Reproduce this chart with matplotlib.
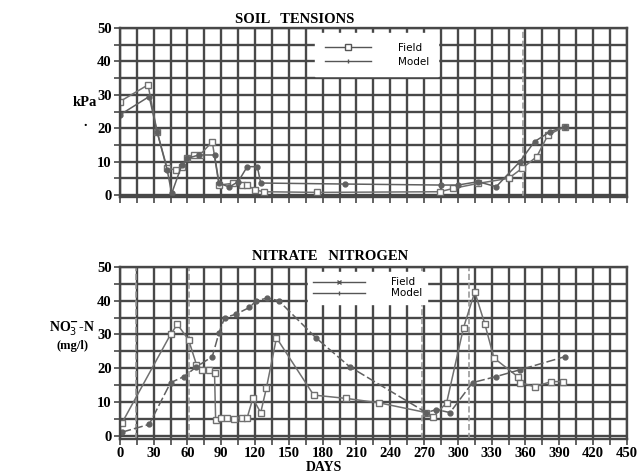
import numpy as np
import matplotlib
matplotlib.use('Agg')
import matplotlib.pyplot as plt
from matplotlib.lines import Line2D

# ---- soil tensions (kPa) ----
st_field_day = [0, 25, 33, 42, 50, 55, 60, 66, 71, 82, 88, 100, 108, 113, 120, 128, 175, 284, 296, 318, 345, 357, 370, 380, 395]
st_field_val = [28, 33, 19, 8, 7.5, 8.5, 11, 12, 12, 16, 3, 3.5, 3, 3, 1.5, 1, 0.8, 1, 2, 3.5, 5, 8, 11.5, 18, 20.5]
st_model_day = [0, 26, 33, 42, 46, 55, 60, 70, 84, 88, 97, 105, 113, 122, 125, 200, 285, 300, 318, 334, 355, 368, 382, 395]
st_model_val = [24, 29.5, 19, 7.5, 0.5, 9, 11, 12, 12, 3.6, 2.4, 4, 8.5, 8.5, 3.6, 3.3, 3, 3, 4, 2.5, 10, 16, 19, 20.5]

# ---- nitrate nitrogen (mg/l) ----
no3_field_day = [2, 45, 51, 61, 68, 73, 79, 84, 85, 90, 95, 101, 108, 113, 118, 125, 130, 139, 172, 201, 230, 272, 278, 290, 305, 315, 324, 332, 353, 355, 368, 383, 393]
no3_field_val = [3.8, 30, 33, 28.4, 21, 19.5, 19.5, 18.6, 4.7, 5.3, 5.3, 5, 5.3, 5.3, 11, 6.8, 14, 29, 12, 11, 9.7, 6.8, 5.6, 9.7, 32, 42.6, 33, 23, 17.5, 15.7, 14.5, 16, 16]
no3_model_day = [2, 26, 45, 57, 68, 82, 88, 93, 103, 115, 121, 131, 141, 174, 204, 272, 281, 293, 313, 334, 355, 395]
no3_model_val = [1, 3.3, 15.7, 17.5, 20.4, 23.4, 30.5, 35, 36, 38, 40, 40.8, 40, 29, 20.4, 6.8, 7.7, 6.8, 15.7, 17.5, 19.5, 23.4]

st_events = [358]
no3_events = [14, 61, 268, 310]
x_ticks = list(range(0, 451, 30))
y_ticks = [0, 10, 20, 30, 40, 50]

serif = 'Liberation Serif'
grid_col = '#484848'
line_col = '#707070'

fig = plt.figure(figsize=(6.41, 4.76), dpi=100)
ax1 = fig.add_axes([0.187, 0.586, 0.791, 0.355])
ax2 = fig.add_axes([0.187, 0.078, 0.791, 0.361])


def style(ax, ylo):
    ax.set_xlim(0, 450)
    ax.set_ylim(ylo, 50)
    ax.set_xticks(x_ticks)
    ax.set_xticks(range(0, 451, 15), minor=True)
    ax.set_yticks(y_ticks)
    ax.set_yticks(range(0, 51, 5), minor=True)
    ax.grid(True, which='both', color=grid_col, linewidth=1.7)
    ax.set_axisbelow(True)
    for s in ax.spines.values():
        s.set_color(grid_col)
        s.set_linewidth(1.7)
    ax.tick_params(which='both', direction='out', length=4, width=1.2, color=grid_col, pad=2)
    for lab in ax.get_yticklabels():
        lab.set_fontfamily(serif)
        lab.set_fontweight('bold')
        lab.set_fontsize(10.5)


style(ax1, -0.6)
style(ax2, -1.0)
ax1.set_xticklabels([])
ax2.set_xticklabels([str(t) for t in x_ticks], fontfamily=serif, fontweight='bold', fontsize=10.5)

for d in st_events:
    ax1.axvline(d, color='#9a9a9a', linestyle='--', linewidth=1.2)
for d in no3_events:
    ax2.axvline(d, color='#9a9a9a', linestyle='--', linewidth=1.2)

# top panel
ax1.plot(st_field_day, st_field_val, color=line_col, linewidth=1.1, marker='s', markersize=5,
         markerfacecolor='white', markeredgecolor=line_col)
ax1.plot(st_model_day, st_model_val, color='#606060', linewidth=1.1, marker='o', markersize=3.5)

# bottom panel
ax2.plot(no3_field_day, no3_field_val, color=line_col, linewidth=1.1, marker='s', markersize=5,
         markerfacecolor='white', markeredgecolor=line_col)
ax2.plot(no3_model_day, no3_model_val, color='#606060', linewidth=1.1, linestyle=(0, (6, 2)),
         marker='o', markersize=3.5)

# legends
h1 = [Line2D([], [], color='#555555', lw=1, marker='s', ms=4, mfc='white'),
      Line2D([], [], color='#555555', lw=1, marker='|', ms=3)]
ax1.legend(h1, ['Field', 'Model'], loc='upper left', bbox_to_anchor=(0.375, 1.0),
           frameon=True, fancybox=False, edgecolor='white', framealpha=1,
           prop={'family': 'DejaVu Sans', 'size': 7.5}, handlelength=4.5,
           borderpad=0.9, labelspacing=0.4, handletextpad=2.5)
h2 = [Line2D([], [], color='#555555', lw=1, marker='x', ms=3),
      Line2D([], [], color='#555555', lw=1, marker='|', ms=3)]
ax2.legend(h2, ['Field', 'Model'], loc='upper left', bbox_to_anchor=(0.36, 1.0),
           frameon=True, fancybox=False, edgecolor='white', framealpha=1,
           prop={'family': 'DejaVu Sans', 'size': 7.5}, handlelength=5,
           borderpad=0.5, labelspacing=0.1, handletextpad=2.5)

# titles and labels
fig.text(0.46, 0.958, 'SOIL   TENSIONS', family=serif, fontweight='bold', fontsize=10.5,
         ha='center', va='center')
fig.text(0.515, 0.462, 'NITRATE   NITROGEN', family=serif, fontweight='bold', fontsize=10.5,
         ha='center', va='center')
fig.text(0.132, 0.785, 'kPa', family=serif, fontweight='bold', fontsize=10.5, ha='center', va='center')
fig.text(0.133, 0.742, '.', family=serif, fontweight='bold', fontsize=10, ha='center', va='center')
fig.text(0.113, 0.31, r'NO$_3^{\mathbf{-}}$-N', family=serif, fontweight='bold', fontsize=10,
         ha='center', va='center')
fig.text(0.113, 0.273, '(mg/l)', family=serif, fontweight='bold', fontsize=9, ha='center', va='center')
fig.text(0.505, 0.018, 'DAYS', family=serif, fontweight='bold', fontsize=10, ha='center', va='center')

fig.savefig('out.png', dpi=100)
